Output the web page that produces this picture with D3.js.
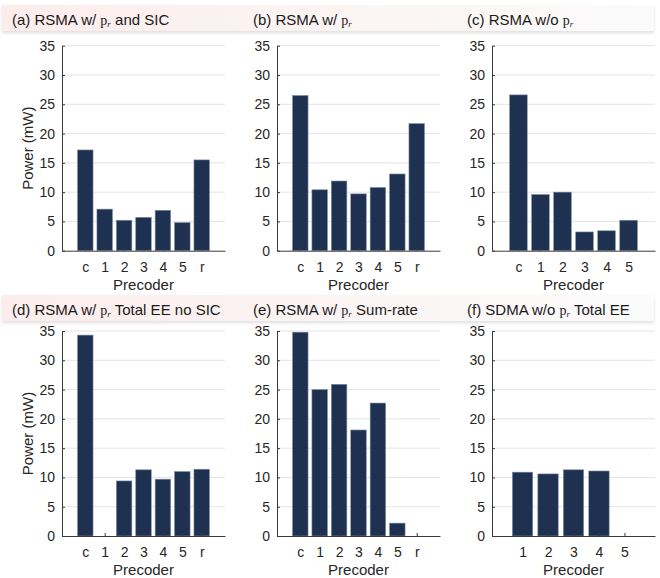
<!DOCTYPE html>
<html>
<head>
<meta charset="utf-8">
<script src="https://cdn.jsdelivr.net/npm/d3@7"></script>
<style>
  body { margin: 0; background: #fff; }
  svg { display: block; font-family: 'Liberation Sans', Arial, sans-serif; }
</style>
</head>
<body>
<div id="chart"></div>
<script>
// Precoder categories per panel
const precodersFull = ['c', '1', '2', '3', '4', '5', 'r']
const precodersNoR = ['c', '1', '2', '3', '4', '5']
const precodersSdma = ['1', '2', '3', '4', '5']

// Power per precoder (mW)
const powerA = [17.2, 7.1, 5.2, 5.7, 6.9, 4.8, 15.5]
const powerB = [26.5, 10.4, 11.9, 9.7, 10.8, 13.1, 21.7]
const powerC = [26.6, 9.6, 10.0, 3.2, 3.4, 5.2]
const powerD = [34.3, 0, 9.4, 11.3, 9.7, 11.0, 11.4]
const powerE = [34.8, 25.0, 25.9, 18.1, 22.7, 2.2, 0]
const powerF = [10.9, 10.6, 11.3, 11.1, 0]

const yTicks = [0, 5, 10, 15, 20, 25, 30, 35]
const yMax = 35

// title pieces: text before / after the p_r symbol
const panels = [
  { pre: '(a) RSMA w/ ', post: ' and SIC', cats: precodersFull, vals: powerA, ylabel: true },
  { pre: '(b) RSMA w/ ', post: '', cats: precodersFull, vals: powerB, ylabel: false },
  { pre: '(c) RSMA w/o ', post: '', cats: precodersNoR, vals: powerC, ylabel: false },
  { pre: '(d) RSMA w/ ', post: ' Total EE no SIC', cats: precodersFull, vals: powerD, ylabel: true },
  { pre: '(e) RSMA w/ ', post: ' Sum-rate', cats: precodersFull, vals: powerE, ylabel: false },
  { pre: '(f) SDMA w/o ', post: ' Total EE', cats: precodersSdma, vals: powerF, ylabel: false }
]

const W = 660
const H = 578
const colLeft = [62, 277, 492]
const plotW = 163
const rowTop = [45.7, 331]
const plotH = 205
const titleTop = [5, 295]
const titleX = [12, 253, 467]

const BAR = '#1f3150'
const BAR_EDGE = '#7f8fa6'
const AXIS = '#3a3a3a'
const TEXT = '#262626'
const GRID = '#e4e4e4'

const svg = d3.select('#chart').append('svg')
  .attr('width', W)
  .attr('height', H)

const defs = svg.append('defs')
const grad = defs.append('linearGradient').attr('id', 'band')
grad.append('stop').attr('offset', '0%').attr('stop-color', '#fcedec')
grad.append('stop').attr('offset', '100%').attr('stop-color', '#fbfbfb')
const blur = defs.append('filter').attr('id', 'shadow')
  .attr('x', '-5%').attr('y', '-50%').attr('width', '110%').attr('height', '200%')
blur.append('feDropShadow')
  .attr('dx', 0).attr('dy', 2).attr('stdDeviation', 1.5)
  .attr('flood-color', '#000').attr('flood-opacity', 0.12)

const y = d3.scaleLinear().domain([0, yMax]).range([plotH, 0])

panels.forEach((p, i) => {
  const col = i % 3
  const row = Math.floor(i / 3)
  const n = p.cats.length
  const x = d3.scaleLinear().domain([-1.2, n - 1 + 1.2]).range([0, plotW])
  const bw = x(0.8) - x(0)

  const g = svg.append('g')
    .attr('transform', `translate(${colLeft[col]},${rowTop[row]})`)

  // grid
  g.selectAll('line.grid')
    .data(yTicks.filter(t => t > 0))
    .enter().append('line')
    .attr('class', 'grid')
    .attr('x1', 0).attr('x2', plotW)
    .attr('y1', d => y(d)).attr('y2', d => y(d))
    .style('stroke', GRID)
    .style('stroke-width', 1)

  // bars
  g.selectAll('rect.bar')
    .data(p.vals)
    .enter().append('rect')
    .attr('class', 'bar')
    .attr('x', (d, k) => x(k) - bw / 2)
    .attr('y', d => y(d))
    .attr('width', bw)
    .attr('height', d => plotH - y(d))
    .style('fill', BAR)
    .style('stroke', d => d > 0 ? BAR_EDGE : 'none')
    .style('stroke-width', 0.6)

  // axes (ticks point inward like MATLAB)
  const xAxis = d3.axisBottom(x)
    .tickValues(d3.range(n))
    .tickFormat(k => p.cats[k])
    .tickSizeInner(-3)
    .tickSizeOuter(0)
    .tickPadding(11)
  const gx = g.append('g')
    .attr('transform', `translate(0,${plotH})`)
    .call(xAxis)

  const yAxis = d3.axisLeft(y)
    .tickValues(yTicks)
    .tickSizeInner(-3)
    .tickSizeOuter(0)
    .tickPadding(7)
  const gy = g.append('g').call(yAxis)

  ;[gx, gy].forEach(a => {
    a.select('.domain').style('stroke', AXIS).style('stroke-width', 1)
    a.selectAll('.tick line').style('stroke', AXIS)
    a.selectAll('.tick text')
      .style('font-size', '14px')
      .style('fill', TEXT)
      .style('font-family', "'Liberation Sans', Arial, sans-serif")
  })

  g.append('text')
    .attr('x', plotW / 2)
    .attr('y', plotH + 39)
    .attr('text-anchor', 'middle')
    .style('font-size', '15px')
    .style('fill', TEXT)
    .text('Precoder')

  if (p.ylabel) {
    g.append('text')
      .attr('transform', `translate(${28 - colLeft[col]},${plotH / 2}) rotate(-90)`)
      .attr('text-anchor', 'middle')
      .attr('dy', '0.35em')
      .style('font-size', '15px')
      .style('fill', TEXT)
      .text('Power (mW)')
  }
})

// title bands, drawn last so they sit on top
titleTop.forEach((t, row) => {
  svg.append('rect')
    .attr('x', 2).attr('y', t)
    .attr('width', 652).attr('height', 26)
    .style('fill', 'url(#band)')
    .attr('filter', 'url(#shadow)')

  panels.slice(row * 3, row * 3 + 3).forEach((p, col) => {
    const txt = svg.append('text')
      .attr('x', titleX[col])
      .attr('y', t + 20)
      .style('font-size', '15px')
      .style('fill', '#1a1a1a')
    txt.append('tspan').text(p.pre)
    txt.append('tspan')
      .style('font-family', "'Liberation Serif', 'DejaVu Serif', serif")
      .style('font-size', '14px')
      .text('p')
    txt.append('tspan')
      .style('font-family', "'Liberation Serif', 'DejaVu Serif', serif")
      .style('font-style', 'italic')
      .style('font-size', '9px')
      .attr('dy', 2)
      .text('r')
    txt.append('tspan').attr('dy', -2).text(p.post)
  })
})
</script>
</body>
</html>
